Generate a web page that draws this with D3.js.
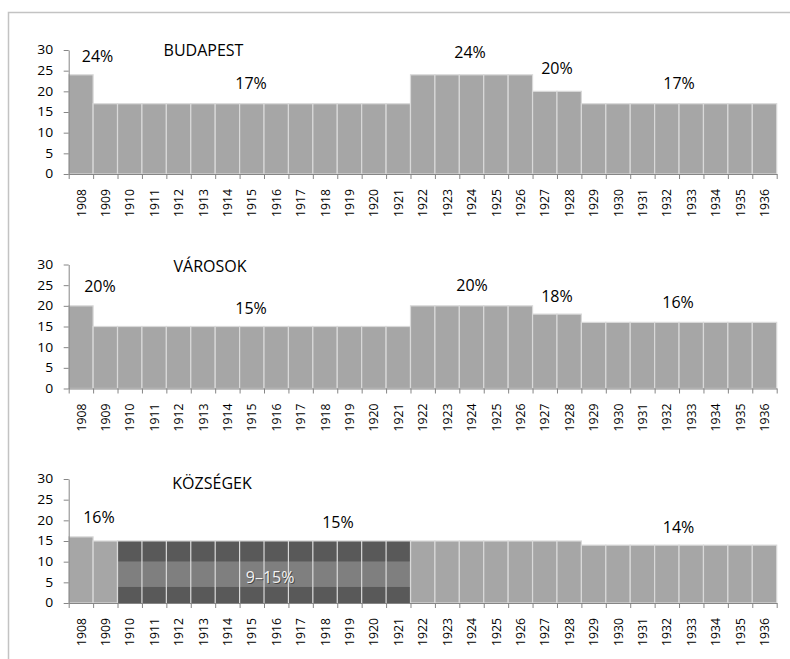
<!DOCTYPE html>
<html>
<head>
<meta charset="utf-8">
<script src="https://cdn.jsdelivr.net/npm/d3@7"></script>
<style>
  html, body { margin: 0; padding: 0; background: #fff; }
  svg { display: block; }
</style>
</head>
<body>
<svg id="chart" width="790" height="659"></svg>
<script>
// ---------------- DATA ----------------
const years = [1908, 1909, 1910, 1911, 1912, 1913, 1914, 1915, 1916, 1917, 1918, 1919, 1920, 1921,
               1922, 1923, 1924, 1925, 1926, 1927, 1928, 1929, 1930, 1931, 1932, 1933, 1934, 1935, 1936];

const budapest = [24, 17, 17, 17, 17, 17, 17, 17, 17, 17, 17, 17, 17, 17,
                  24, 24, 24, 24, 24, 20, 20, 17, 17, 17, 17, 17, 17, 17, 17];

const varosok  = [20, 15, 15, 15, 15, 15, 15, 15, 15, 15, 15, 15, 15, 15,
                  20, 20, 20, 20, 20, 18, 18, 16, 16, 16, 16, 16, 16, 16, 16];

const kozsegek = [16, 15, 15, 15, 15, 15, 15, 15, 15, 15, 15, 15, 15, 15,
                  15, 15, 15, 15, 15, 15, 15, 14, 14, 14, 14, 14, 14, 14, 14];

// range years (9–15%) drawn as stacked segments
const rangeYears = [1910, 1911, 1912, 1913, 1914, 1915, 1916, 1917, 1918, 1919, 1920, 1921];
const rangeSegments = [[0, 4], [4, 10], [10, 15]];

const yTicks = [0, 5, 10, 15, 20, 25, 30];

const panelTitles = ["BUDAPEST", "VÁROSOK", "KÖZSÉGEK"];

// annotation labels: [text, band position (index units), value level]
const labelsBudapest = [["24%", 1.18, 28.55], ["BUDAPEST", 5.52, 30.0], ["17%", 7.47, 21.8],
                        ["24%", 16.44, 29.5], ["20%", 20.0, 25.6], ["17%", 25.0, 22.0]];
const labelsVarosok  = [["20%", 1.28, 24.6], ["VÁROSOK", 5.79, 29.6], ["15%", 7.47, 19.5],
                        ["20%", 16.52, 25.0], ["18%", 20.0, 22.4], ["16%", 24.96, 20.8]];
const labelsKozsegek = [["KÖZSÉGEK", 5.87, 29.0], ["16%", 1.24, 20.6], ["15%", 11.03, 19.4],
                        ["14%", 24.98, 18.4]];
const rangeLabel = ["9–15%", 8.25, 6.3];

// ---------------- STYLE / LAYOUT ----------------
const FONT = "'Open Sans', 'Noto Sans', sans-serif";
const WEIGHT = 500;
const barFill = "#a6a6a6", darkFill = "#595959", midFill = "#7f7f7f";
const barStroke = "#d9d9d9", axisColor = "#868686";
const xLeft = 68.7, xRight = 776.7;
const panelZero = [174, 388.5, 603];
const panelH = 124;

const svg = d3.select("#chart");

// outer frame (extends past the window at right and bottom)
svg.append("rect")
  .attr("x", 8.5).attr("y", 12.5).attr("width", 800).attr("height", 700)
  .attr("fill", "none").attr("stroke", "#c3c3c3").attr("stroke-width", 1.5);

const band = d3.scaleBand().domain(years).range([xLeft, xRight]).paddingInner(0).paddingOuter(0);
const idx = d3.scaleLinear().domain([0, years.length]).range([xLeft, xRight]);

const panels = [
  { values: budapest, labels: labelsBudapest },
  { values: varosok, labels: labelsVarosok },
  { values: kozsegek, labels: labelsKozsegek }
];

panels.forEach((p, pi) => {
  const zero = panelZero[pi];
  const y = d3.scaleLinear().domain([0, 30]).range([zero, zero - panelH]);
  const g = svg.append("g");

  // bars
  g.selectAll("rect.bar")
    .data(years.map((yr, i) => ({ yr, v: p.values[i] })))
    .join("rect")
    .attr("class", "bar")
    .attr("x", d => band(d.yr))
    .attr("width", band.bandwidth())
    .attr("y", d => y(d.v))
    .attr("height", d => y(0) - y(d.v))
    .attr("fill", barFill)
    .attr("stroke", barStroke)
    .attr("stroke-width", 1.2);

  // stacked range segments (KÖZSÉGEK only)
  if (pi === 2) {
    const segs = [];
    rangeYears.forEach(yr => rangeSegments.forEach((s, si) => segs.push({ yr, s, si })));
    g.selectAll("rect.seg")
      .data(segs)
      .join("rect")
      .attr("class", "seg")
      .attr("x", d => band(d.yr))
      .attr("width", band.bandwidth())
      .attr("y", d => y(d.s[1]))
      .attr("height", d => y(d.s[0]) - y(d.s[1]))
      .attr("fill", d => d.si === 1 ? midFill : darkFill)
      .attr("stroke", "none");
    const lastX = band(rangeYears[rangeYears.length - 1]) + band.bandwidth();
    g.selectAll("line.sep")
      .data(rangeYears)
      .join("line")
      .attr("class", "sep")
      .attr("x1", d => band(d)).attr("x2", d => band(d))
      .attr("y1", y(15)).attr("y2", y(0))
      .attr("stroke", barStroke).attr("stroke-width", 1.2);
    g.append("line")
      .attr("x1", band(rangeYears[0])).attr("x2", lastX)
      .attr("y1", y(15)).attr("y2", y(15))
      .attr("stroke", barStroke).attr("stroke-width", 1.2);
    g.append("line")
      .attr("x1", lastX).attr("x2", lastX)
      .attr("y1", y(15)).attr("y2", y(0))
      .attr("stroke", barStroke).attr("stroke-width", 1.2);
  }

  // y axis
  const sxY = 1.16, labEnd = 15.5;
  const yAxis = g.append("g")
    .attr("transform", `translate(${xLeft},0)`)
    .call(d3.axisLeft(y).tickValues(yTicks).tickSize(5).tickSizeOuter(0).tickFormat(d3.format("d")));
  yAxis.select(".domain").attr("stroke", axisColor);
  yAxis.selectAll(".tick line").attr("stroke", axisColor);
  yAxis.selectAll(".tick text")
    .attr("x", -labEnd / sxY)
    .attr("transform", `scale(${sxY},1)`)
    .attr("font-family", FONT).attr("font-size", 12).attr("font-weight", WEIGHT).attr("fill", "#000");

  // x axis: line + boundary ticks
  const xAxis = g.append("g")
    .attr("transform", `translate(0,${zero})`)
    .call(d3.axisBottom(idx).tickValues(d3.range(years.length + 1)).tickFormat("").tickSize(5).tickSizeOuter(0));
  xAxis.select(".domain").attr("stroke", axisColor);
  xAxis.selectAll(".tick line").attr("stroke", axisColor);

  // x labels (rotated years)
  const xLab = g.append("g")
    .attr("transform", `translate(0,${zero})`)
    .call(d3.axisBottom(band).tickSize(0).tickPadding(0));
  xLab.select(".domain").remove();
  xLab.selectAll(".tick text")
    .attr("x", 0).attr("y", 0).attr("dy", "0.35em")
    .attr("text-anchor", "end")
    .attr("transform", "translate(0,15) scale(1.08,1) rotate(-90)")
    .attr("font-family", FONT).attr("font-size", 12.2).attr("font-weight", WEIGHT).attr("fill", "#000");

  // annotations
  g.selectAll("text.ann")
    .data(p.labels)
    .join("text")
    .attr("class", "ann")
    .attr("x", d => idx(d[1]))
    .attr("y", d => y(d[2]))
    .attr("dy", "0.35em")
    .attr("text-anchor", "middle")
    .attr("font-family", FONT).attr("font-size", 16).attr("font-weight", WEIGHT).attr("fill", "#000")
    .text(d => d[0]);

  if (pi === 2) {
    g.append("text")
      .attr("x", idx(rangeLabel[1]) + 1).attr("y", y(rangeLabel[2]) + 1)
      .attr("dy", "0.35em").attr("text-anchor", "middle")
      .attr("font-family", FONT).attr("font-size", 16).attr("font-weight", WEIGHT)
      .attr("fill", "#222").attr("opacity", 0.6)
      .text(rangeLabel[0]);
    g.append("text")
      .attr("x", idx(rangeLabel[1])).attr("y", y(rangeLabel[2]))
      .attr("dy", "0.35em").attr("text-anchor", "middle")
      .attr("font-family", FONT).attr("font-size", 16).attr("font-weight", WEIGHT).attr("fill", "#f2f2f2")
      .text(rangeLabel[0]);
  }
});
</script>
</body>
</html>
